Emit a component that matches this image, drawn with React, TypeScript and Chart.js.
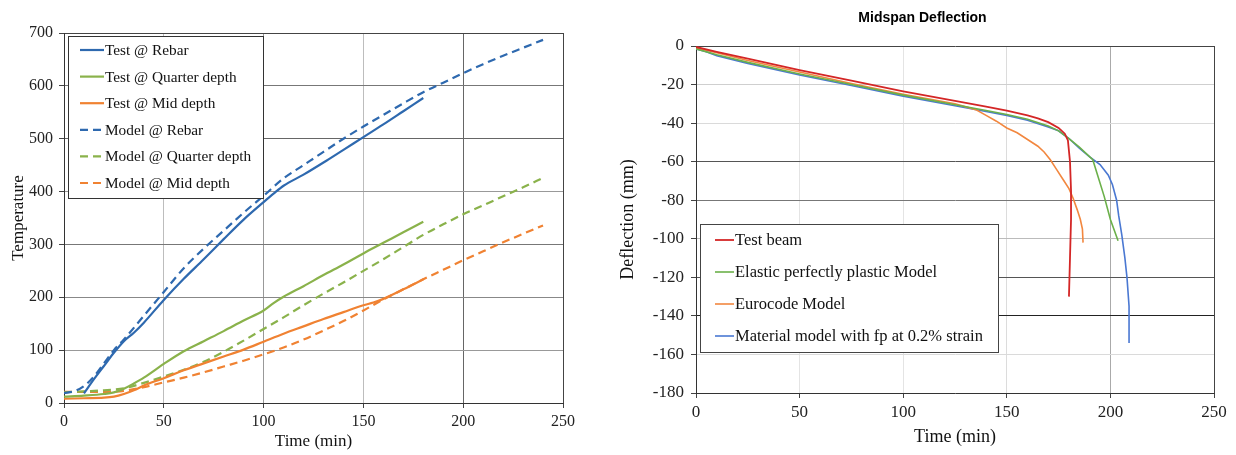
import React, { useEffect, useRef } from 'react';
import { Chart, registerables } from 'chart.js';
Chart.register(...registerables);

const SERIF = '"Liberation Serif", "Times New Roman", serif';

// ---------- Left chart: Temperature ----------
const leftXTicks = [0, 50, 100, 150, 200, 250];
const leftYTicks = [0, 100, 200, 300, 400, 500, 600, 700];

const timeTestRebar = [10, 15, 20, 25, 30, 35, 40, 50, 60, 70, 80, 90, 100, 105, 110, 120, 130, 140, 150, 160, 170, 180];
const tempTestRebar = [18, 45, 70, 95, 117, 133, 152, 195, 235, 272, 310, 347, 380, 396, 411, 432, 455, 479, 503, 527, 552, 577];

const timeTestQuarter = [0, 10, 20, 25, 30, 35, 40, 50, 60, 70, 80, 90, 100, 105, 110, 120, 130, 140, 150, 160, 170, 180];
const tempTestQuarter = [12, 14, 17, 20, 27, 37, 48, 74, 98, 117, 136, 156, 175, 189, 201, 221, 242, 262, 283, 303, 323, 343];

const timeTestMid = [0, 10, 20, 25, 30, 35, 40, 50, 60, 70, 80, 90, 100, 110, 120, 130, 140, 150, 155, 160, 170, 180];
const tempTestMid = [8, 9, 10, 12, 17, 24, 33, 47, 62, 75, 88, 101, 116, 131, 145, 159, 172, 185, 190, 197, 215, 234];

const timeModelRebar = [0, 5, 10, 15, 20, 25, 30, 40, 50, 60, 70, 80, 90, 100, 110, 120, 130, 140, 150, 160, 170, 180, 190, 200, 210, 220, 230, 240];
const tempModelRebar = [19, 22, 32, 50, 75, 100, 120, 165, 210, 255, 292, 326, 360, 392, 425, 450, 475, 500, 523, 545, 567, 588, 606, 624, 641, 657, 672, 687];

const timeModelQuarter = [0, 10, 20, 30, 40, 50, 60, 70, 80, 90, 100, 110, 120, 130, 140, 150, 160, 170, 180, 190, 200, 210, 220, 230, 240];
const tempModelQuarter = [20, 22, 24, 28, 38, 50, 63, 78, 97, 118, 140, 162, 185, 207, 228, 250, 272, 295, 318, 338, 357, 374, 391, 408, 426];

const timeModelMid = [0, 10, 20, 30, 40, 50, 60, 70, 80, 90, 100, 110, 120, 130, 140, 150, 160, 170, 180, 190, 200, 210, 220, 230, 240];
const tempModelMid = [21, 21, 21, 23, 30, 39, 48, 58, 69, 80, 92, 105, 120, 137, 155, 175, 196, 215, 234, 252, 270, 287, 304, 320, 336];

// ---------- Right chart: Midspan Deflection ----------
const rightXTicks = [0, 50, 100, 150, 200, 250];
const rightYTicks = [0, -20, -40, -60, -80, -100, -120, -140, -160, -180];

const timeTestBeam = [0, 10, 25, 50, 75, 100, 125, 140, 150, 160, 165, 170, 175, 178, 179.5, 180.5, 181, 181, 180.5, 180];
const deflTestBeam = [-0.5, -3, -6.5, -12.5, -18, -23.5, -28.5, -31.5, -33.5, -36, -37.5, -39.5, -42.5, -45.5, -49, -60, -75, -90, -110, -130];

const timeElastic = [0, 10, 25, 50, 75, 100, 125, 140, 150, 160, 170, 175, 180, 185, 191.5, 197, 200, 203.7];
const deflElastic = [-1.5, -4.5, -8.5, -14.5, -20, -25.5, -30.5, -33.5, -35.5, -38, -41.5, -44, -48, -52.5, -59, -78, -90, -101];

const timeEurocode = [0, 10, 25, 50, 75, 100, 125, 135, 140, 145, 150, 155, 160, 165, 168, 171, 174, 177, 180, 182, 184, 185.5, 186.5, 186.8];
const deflEurocode = [-1, -3.5, -7.5, -13.5, -19.5, -25, -30, -33, -36, -39, -42.5, -45, -48.5, -52, -55, -59, -64, -69, -74, -79, -85, -90, -95, -102];

const timeMaterial = [0, 5, 10, 25, 50, 75, 100, 125, 140, 150, 160, 170, 175, 180, 185, 190, 195, 199, 201, 203, 204, 205.5, 207, 208, 209, 209];
const deflMaterial = [-1.5, -3, -5, -9, -15, -20.5, -26, -31, -34, -36, -38.5, -42, -44, -48, -53, -57.5, -61.5, -67, -72, -80, -88, -98, -110, -120, -135, -154];

const pts = (xs: number[], ys: number[]) => xs.map((x, i) => ({ x, y: ys[i] }));

const legendBox = {
  id: 'legendBox',
  afterDraw(chart: any, _args: any, opts: any) {
    if (!opts || !opts.display) return;
    const ctx = chart.ctx;
    ctx.save();
    ctx.fillStyle = '#ffffff';
    ctx.fillRect(opts.x, opts.y, opts.w, opts.h);
    ctx.strokeStyle = opts.borderColor;
    ctx.lineWidth = 1;
    ctx.strokeRect(opts.x + 0.5, opts.y + 0.5, opts.w, opts.h);
    ctx.font = opts.font;
    ctx.textBaseline = 'middle';
    ctx.textAlign = 'left';
    chart.data.datasets.forEach((ds: any, i: number) => {
      const cy = opts.firstRow + i * opts.rowGap;
      ctx.strokeStyle = ds.borderColor;
      ctx.lineWidth = ds.borderWidth;
      ctx.setLineDash(ds.borderDash || []);
      ctx.beginPath();
      ctx.moveTo(opts.lineX0, cy);
      ctx.lineTo(opts.lineX1, cy);
      ctx.stroke();
      ctx.setLineDash([]);
      ctx.fillStyle = '#111111';
      ctx.fillText(ds.label, opts.textX, cy + 1);
    });
    ctx.restore();
  },
};

const fixedTitle = {
  id: 'fixedTitle',
  afterDraw(chart: any, _args: any, opts: any) {
    if (!opts || !opts.text) return;
    const ctx = chart.ctx;
    ctx.save();
    ctx.font = opts.font;
    ctx.fillStyle = '#000';
    ctx.textAlign = 'center';
    ctx.textBaseline = 'middle';
    ctx.fillText(opts.text, opts.x, opts.y);
    ctx.restore();
  },
};

const colorBy = (map: Record<string, string>, fallback: string) => (c: any) =>
  (c.tick && map[String(c.tick.value)]) || fallback;

function LeftChart() {
  const ref = useRef<HTMLCanvasElement>(null);
  useEffect(() => {
    const blue = '#2E69AF';
    const green = '#8AB24B';
    const orange = '#F08232';
    const base = { pointRadius: 0, borderWidth: 2.2, cubicInterpolationMode: 'monotone', fill: false };
    const chart = new Chart(ref.current!, {
      type: 'line',
      data: {
        datasets: [
          { ...base, label: 'Test @ Rebar', data: pts(timeTestRebar, tempTestRebar), borderColor: blue },
          { ...base, label: 'Test @ Quarter depth', data: pts(timeTestQuarter, tempTestQuarter), borderColor: green },
          { ...base, label: 'Test @ Mid depth', data: pts(timeTestMid, tempTestMid), borderColor: orange },
          { ...base, label: 'Model @ Rebar', data: pts(timeModelRebar, tempModelRebar), borderColor: blue, borderDash: [8, 5] },
          { ...base, label: 'Model @ Quarter depth', data: pts(timeModelQuarter, tempModelQuarter), borderColor: green, borderDash: [8, 5] },
          { ...base, label: 'Model @ Mid depth', data: pts(timeModelMid, tempModelMid), borderColor: orange, borderDash: [8, 5] },
        ] as any,
      },
      options: {
        animation: false,
        responsive: false,
        maintainAspectRatio: false,
        layout: { padding: { top: 33, right: 37, left: 0, bottom: 0 } },
        plugins: {
          legend: { display: false },
          tooltip: { enabled: false },
          legendBox: {
            display: true, x: 68, y: 36, w: 195, h: 162, borderColor: '#333',
            firstRow: 50, rowGap: 26.6, lineX0: 80, lineX1: 104, textX: 105,
            font: `15.3px ${SERIF}`,
          },
        } as any,
        scales: {
          x: {
            type: 'linear', min: 0, max: 250,
            afterBuildTicks: (s: any) => { s.ticks = leftXTicks.map((v) => ({ value: v })); },
            ticks: { font: { family: SERIF, size: 16 }, color: '#222', padding: 4, maxRotation: 0 },
            grid: { color: colorBy({ '50': '#bdbdbd', '100': '#999', '150': '#bdbdbd', '200': '#666', '250': '#444' }, '#999'), tickLength: 5, tickColor: '#444' },
            border: { color: '#333' },
            title: { display: true, text: 'Time (min)', font: { family: SERIF, size: 17 }, color: '#111', padding: { top: 0, bottom: 3 } },
            afterFit: (s: any) => { s.height = 52; },
          },
          y: {
            type: 'linear', min: 0, max: 700,
            afterBuildTicks: (s: any) => { s.ticks = leftYTicks.map((v) => ({ value: v })); },
            ticks: { font: { family: SERIF, size: 16 }, color: '#222', padding: 6 },
            grid: { color: colorBy({ '700': '#444', '600': '#777', '500': '#666', '400': '#999', '300': '#777', '200': '#888', '100': '#999' }, '#999'), tickLength: 5, tickColor: '#444' },
            border: { color: '#333' },
            title: { display: true, text: 'Temperature', font: { family: SERIF, size: 17 }, color: '#111', padding: { top: 8, bottom: 0 } },
            afterFit: (s: any) => { s.width = 64; },
          },
        } as any,
      },
      plugins: [legendBox],
    });
    return () => chart.destroy();
  }, []);
  return <canvas ref={ref} width={600} height={455} style={{ position: 'absolute', left: 0, top: 0, display: 'block' }} />;
}

function RightChart() {
  const ref = useRef<HTMLCanvasElement>(null);
  useEffect(() => {
    const base = { pointRadius: 0, borderWidth: 1.6, tension: 0, fill: false };
    const chart = new Chart(ref.current!, {
      type: 'line',
      data: {
        datasets: [
          { ...base, label: 'Test beam', data: pts(timeTestBeam, deflTestBeam), borderColor: '#D42626', borderWidth: 1.8 },
          { ...base, label: 'Elastic perfectly plastic Model', data: pts(timeElastic, deflElastic), borderColor: '#6BB04A' },
          { ...base, label: 'Eurocode Model', data: pts(timeEurocode, deflEurocode), borderColor: '#F2873F' },
          { ...base, label: 'Material model with fp at 0.2% strain', data: pts(timeMaterial, deflMaterial), borderColor: '#4A78D2' },
        ] as any,
      },
      options: {
        animation: false,
        responsive: false,
        maintainAspectRatio: false,
        layout: { padding: { top: 46, right: 22, left: 0, bottom: 0 } },
        plugins: {
          legend: { display: false },
          tooltip: { enabled: false },
          fixedTitle: { text: 'Midspan Deflection', x: 322.5, y: 18, font: 'bold 14px "Liberation Sans", Arial, sans-serif' },
          legendBox: {
            display: true, x: 100, y: 224, w: 298, h: 128, borderColor: '#444',
            firstRow: 240, rowGap: 32, lineX0: 115, lineX1: 134, textX: 135,
            font: `16.5px ${SERIF}`,
          },
        } as any,
        scales: {
          x: {
            type: 'linear', min: 0, max: 250,
            afterBuildTicks: (s: any) => { s.ticks = rightXTicks.map((v) => ({ value: v })); },
            ticks: { font: { family: SERIF, size: 17 }, color: '#222', padding: 4, maxRotation: 0 },
            grid: { color: colorBy({ '50': '#e4e4e4', '100': '#e4e4e4', '150': '#dcdcdc', '200': '#aaaaaa', '250': '#444' }, '#ddd'), tickLength: 5, tickColor: '#444' },
            border: { color: '#333' },
            title: { display: true, text: 'Time (min)', font: { family: SERIF, size: 18 }, color: '#111', padding: { top: 0, bottom: 7 } },
            afterFit: (s: any) => { s.height = 62; },
          },
          y: {
            type: 'linear', min: -180, max: 0,
            afterBuildTicks: (s: any) => { s.ticks = rightYTicks.slice().reverse().map((v) => ({ value: v })); },
            ticks: { font: { family: SERIF, size: 17 }, color: '#222', padding: 7 },
            grid: { color: colorBy({ '0': '#444', '-20': '#cfcfcf', '-40': '#dadada', '-60': '#555', '-80': '#777', '-100': '#bbb', '-120': '#555', '-140': '#222', '-160': '#dadada' }, '#ccc'), tickLength: 5, tickColor: '#444' },
            border: { color: '#333' },
            title: { display: true, text: 'Deflection (mm)', font: { family: SERIF, size: 18 }, color: '#111', padding: { top: 17, bottom: 0 } },
            afterFit: (s: any) => { s.width = 96; },
          },
        } as any,
      },
      plugins: [legendBox, fixedTitle],
    });
    return () => chart.destroy();
  }, []);
  return <canvas ref={ref} width={636} height={455} style={{ position: 'absolute', left: 600, top: 0, display: 'block' }} />;
}

export default function App() {
  return (
    <div style={{ position: 'absolute', left: 0, top: 0, width: 1236, height: 455, background: '#fff' }}>
      <LeftChart />
      <RightChart />
    </div>
  );
}
